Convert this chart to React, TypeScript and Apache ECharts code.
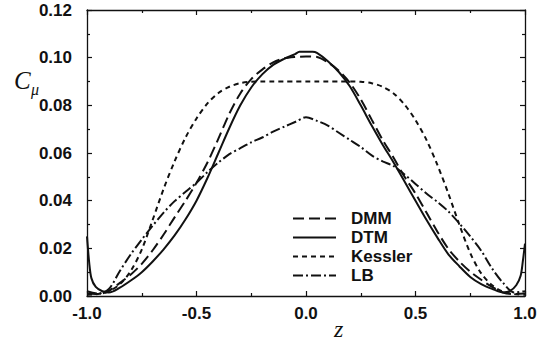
import React, { useEffect, useRef } from "react";
import * as echarts from "echarts";

// z positions for the DMM, Kessler and LB curves
const zStd = [
  -1.0, -0.95, -0.9, -0.85, -0.8, -0.75, -0.7, -0.65, -0.6, -0.55, -0.5,
  -0.45, -0.4, -0.35, -0.3, -0.25, -0.2, -0.15, -0.1, -0.05, 0.0,
  0.05, 0.1, 0.15, 0.2, 0.25, 0.3, 0.35, 0.4, 0.45, 0.5,
  0.55, 0.6, 0.65, 0.7, 0.75, 0.8, 0.85, 0.9, 0.95, 1.0,
];

const dmm = [
  0.001, 0.0008, 0.0022, 0.0055, 0.009, 0.0135, 0.0192, 0.0258, 0.033, 0.040, 0.0475,
  0.056, 0.066, 0.0765, 0.085, 0.091, 0.095, 0.098, 0.0997, 0.1003, 0.1005,
  0.1003, 0.098, 0.0945, 0.0895, 0.0825, 0.074, 0.0655, 0.058, 0.050, 0.043,
  0.035, 0.027, 0.0198, 0.0145, 0.0102, 0.0068, 0.0038, 0.0015, 0.0008, 0.001,
];

const kessler = [
  0.0005, 0.0008, 0.002, 0.005, 0.0105, 0.0195, 0.032, 0.045, 0.0565, 0.0665, 0.0745,
  0.0808, 0.0852, 0.0878, 0.0893, 0.0899, 0.09, 0.09, 0.09, 0.09, 0.09,
  0.09, 0.09, 0.09, 0.09, 0.0899, 0.0893, 0.0878, 0.085, 0.0803, 0.0738,
  0.0655, 0.055, 0.043, 0.030, 0.018, 0.0095, 0.0045, 0.0018, 0.0008, 0.0005,
];

const lb = [
  0.002, 0.001, 0.003, 0.0105, 0.0175, 0.0237, 0.0295, 0.035, 0.0398, 0.0437, 0.0475,
  0.052, 0.056, 0.0595, 0.062, 0.0645, 0.0665, 0.069, 0.071, 0.073, 0.075,
  0.0735, 0.0715, 0.0685, 0.0655, 0.0625, 0.059, 0.0565, 0.0545, 0.051, 0.047,
  0.043, 0.0395, 0.0355, 0.0305, 0.025, 0.019, 0.0115, 0.0055, 0.0015, 0.002,
];

// DTM is sampled more finely near the walls
const zDtm = [
  -1.0, -0.99, -0.98, -0.96, -0.93, -0.9, -0.85, -0.8, -0.75, -0.7, -0.65, -0.6,
  -0.55, -0.5, -0.45, -0.4, -0.35, -0.3, -0.25, -0.2, -0.15, -0.1, -0.05, -0.03,
  0.03, 0.05, 0.1, 0.15, 0.2, 0.25, 0.3, 0.35, 0.4, 0.45, 0.5, 0.55,
  0.6, 0.65, 0.7, 0.75, 0.8, 0.85, 0.9, 0.93, 0.96, 0.98, 0.99, 1.0,
];
const dtm = [
  0.025, 0.014, 0.0075, 0.0038, 0.002, 0.0015, 0.0035, 0.0065, 0.010, 0.0145, 0.0196, 0.0254,
  0.0322, 0.040, 0.0495, 0.060, 0.0705, 0.080, 0.0875, 0.093, 0.097, 0.0995, 0.1015, 0.1025,
  0.1025, 0.102, 0.0985, 0.094, 0.088, 0.080, 0.0715, 0.0635, 0.056, 0.048, 0.040, 0.032,
  0.0245, 0.0175, 0.0125, 0.008, 0.005, 0.003, 0.0015, 0.002, 0.0045, 0.0085, 0.0145, 0.022,
];

const seriesNames = ["DMM", "DTM", "Kessler", "LB"];
const xTicks = { min: -1, max: 1, interval: 0.5 };
const yTicks = { min: 0, max: 0.12, interval: 0.02 };

const pairs = (xs: number[], ys: number[]) => xs.map((x, i) => [x, ys[i]]);

export default function App() {
  const ref = useRef<HTMLDivElement>(null);

  useEffect(() => {
    if (!ref.current) return;
    const chart = echarts.init(ref.current, undefined, { renderer: "svg" });
    const labelFont = {
      color: "#111",
      fontFamily: "Liberation Sans, Arial, sans-serif",
      fontWeight: "bold" as const,
      fontSize: 17,
    };
    const axisCommon = {
      axisLine: { show: true, onZero: false, lineStyle: { color: "#111", width: 1.3 } },
      axisTick: { show: true, inside: true, length: 5, lineStyle: { color: "#111", width: 1.2 } },
      minorTick: { show: true, splitNumber: 2, length: 3, lineStyle: { color: "#111", width: 1.2 } },
      splitLine: { show: false },
      minorSplitLine: { show: false },
    };
    const lineBase = {
      type: "line",
      smooth: 0.3,
      symbol: "none",
      xAxisIndex: 0,
      yAxisIndex: 0,
      color: "#111",
      itemStyle: { color: "#111" },
    };
    chart.setOption({
      animation: false,
      backgroundColor: "#fff",
      color: ["#111"],
      grid: { left: 87, right: 24, top: 10, bottom: 45, containLabel: false },
      xAxis: [
        {
          type: "value",
          ...xTicks,
          ...axisCommon,
          position: "bottom",
          axisLabel: { ...labelFont, margin: 9, formatter: (v: number) => v.toFixed(1) },
        },
        {
          type: "value",
          ...xTicks,
          ...axisCommon,
          position: "top",
          axisLabel: { show: false },
        },
      ],
      yAxis: [
        {
          type: "value",
          ...yTicks,
          ...axisCommon,
          position: "left",
          axisLabel: { ...labelFont, margin: 15, formatter: (v: number) => v.toFixed(2) },
        },
        {
          type: "value",
          ...yTicks,
          ...axisCommon,
          position: "right",
          axisLabel: { show: false },
        },
      ],
      legend: {
        orient: "vertical",
        left: 292,
        top: 209,
        padding: 0,
        itemWidth: 43,
        itemHeight: 14,
        itemGap: 0,
        data: seriesNames,
        itemStyle: { color: "rgba(0,0,0,0)", borderWidth: 0, opacity: 0 },
        textStyle: { ...labelFont, lineHeight: 19, padding: [0, 0, 0, 10] },
      },
      series: [
        { ...lineBase, name: "DMM", data: pairs(zStd, dmm), lineStyle: { color: "#111", width: 2, type: [11, 5] } },
        { ...lineBase, name: "DTM", data: pairs(zDtm, dtm), lineStyle: { color: "#111", width: 2, type: "solid" } },
        { ...lineBase, name: "Kessler", data: pairs(zStd, kessler), lineStyle: { color: "#111", width: 2, type: [5, 4] } },
        { ...lineBase, name: "LB", data: pairs(zStd, lb), lineStyle: { color: "#111", width: 2, type: [10, 3, 2, 3] } },
      ],
      graphic: [
        { type: "text", left: 14, top: 68, style: { text: "C", font: "italic 25px 'Liberation Serif', serif", fill: "#111" } },
        { type: "text", left: 31, top: 81, style: { text: "μ", font: "italic 16px 'Liberation Serif', serif", fill: "#111" } },
        { type: "text", left: 334, top: 317, style: { text: "z", font: "italic 24px 'Liberation Serif', serif", fill: "#111" } },
      ],
    });
    return () => chart.dispose();
  }, []);

  return <div ref={ref} style={{ width: 549, height: 341, position: "absolute", left: 0, top: 0 }} />;
}
